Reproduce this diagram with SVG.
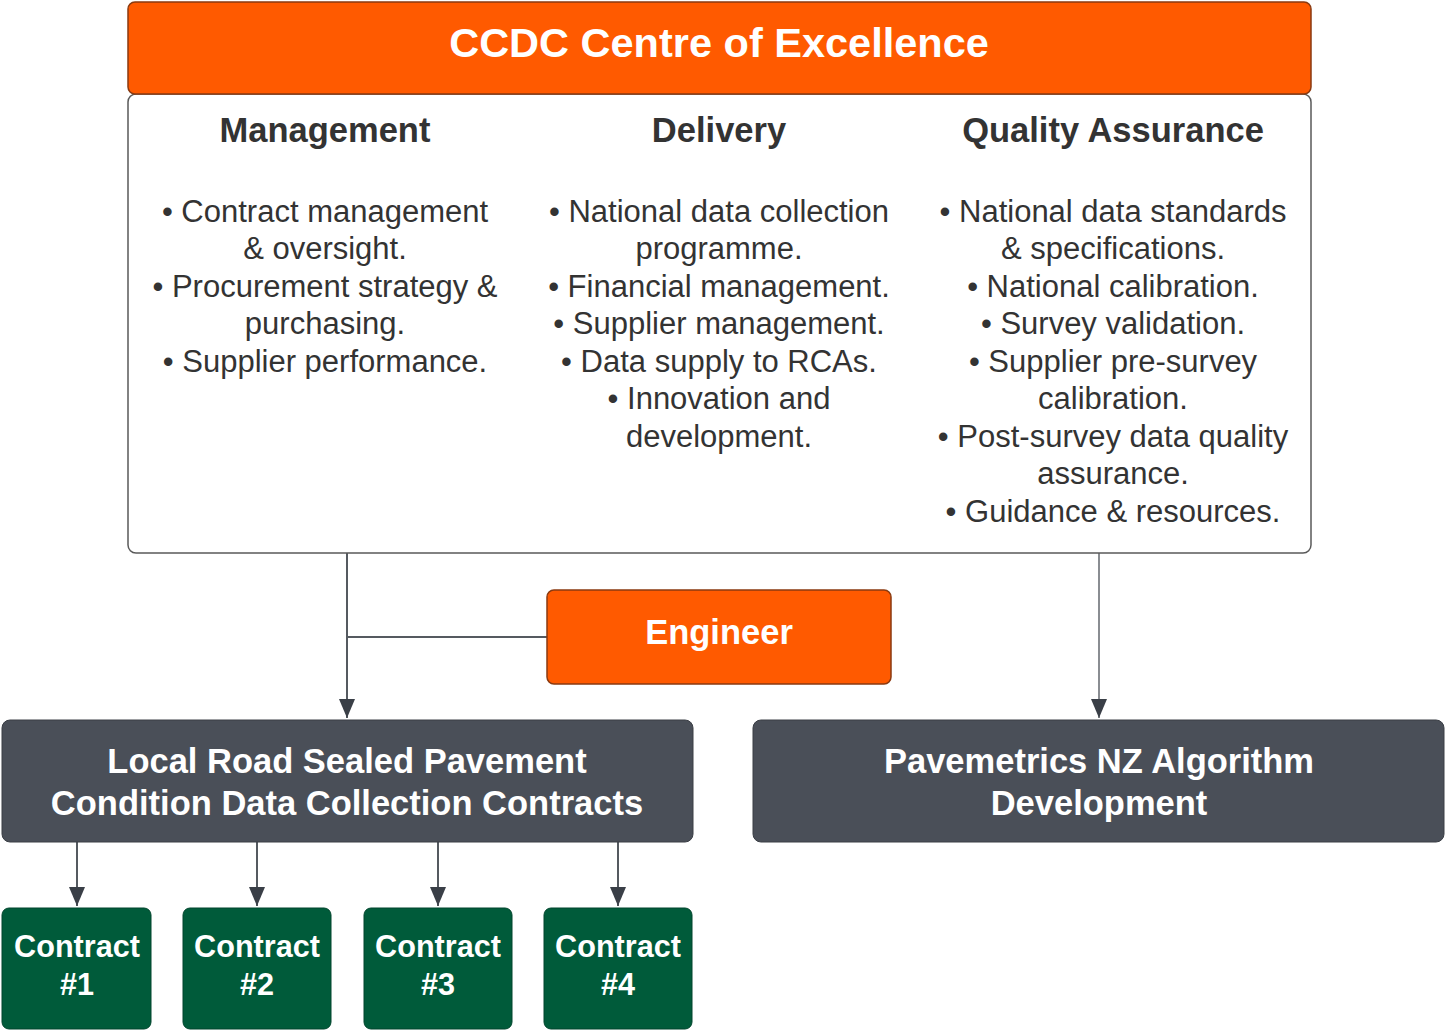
<svg xmlns="http://www.w3.org/2000/svg" width="1445" height="1031" viewBox="0 0 1445 1031">
<style>
.orange{fill:#FF5A00;stroke:#8a3a10;stroke-width:1.5}
.white{fill:#ffffff;stroke:#5a5a5a;stroke-width:1.5}
.dark{fill:#4A4F58;stroke:#3a3e45;stroke-width:1}
.green{fill:#005B3A;stroke:#00452c;stroke-width:1}
text{font-family:"Liberation Sans",Arial,sans-serif;text-anchor:middle}
.wt{fill:#ffffff;font-weight:bold}
.hd{fill:#333333;font-weight:bold;font-size:34.5px}
.bd{fill:#333333;font-size:31px}
.ln{stroke:#555a60;stroke-width:2;fill:none}
.ln2{stroke:#8a8d92;stroke-width:2;fill:none}
</style>
<defs>
<marker id="arr" viewBox="0 0 10 10" refX="10" refY="5" markerWidth="19" markerHeight="16" markerUnits="userSpaceOnUse" orient="auto" preserveAspectRatio="none">
<path d="M0,0 L10,5 L0,10 Z" fill="#3a3f47"/>
</marker>
</defs>
<g id="connectors">
<path class="ln" d="M347,553 V718" marker-end="url(#arr)"/>
<path class="ln" d="M347,637 H547"/>
<path class="ln2" d="M1099,553 V718" marker-end="url(#arr)"/>
<path class="ln" d="M77,842 V906" marker-end="url(#arr)"/>
<path class="ln" d="M257,842 V906" marker-end="url(#arr)"/>
<path class="ln" d="M438,842 V906" marker-end="url(#arr)"/>
<path class="ln" d="M618,842 V906" marker-end="url(#arr)"/>
</g>
<g id="ccdc-body">
<rect class="white" x="128" y="94" width="1183" height="459" rx="8"/>
<text class="hd" x="325" y="142">Management</text>
<text class="hd" x="719" y="142">Delivery</text>
<text class="hd" x="1113" y="142">Quality Assurance</text>
<text class="bd" x="325" y="222">• Contract management</text>
<text class="bd" x="325" y="259">&amp; oversight.</text>
<text class="bd" x="325" y="297">• Procurement strategy &amp;</text>
<text class="bd" x="325" y="334">purchasing.</text>
<text class="bd" x="325" y="372">• Supplier performance.</text>
<text class="bd" x="719" y="222">• National data collection</text>
<text class="bd" x="719" y="259">programme.</text>
<text class="bd" x="719" y="297">• Financial management.</text>
<text class="bd" x="719" y="334">• Supplier management.</text>
<text class="bd" x="719" y="372">• Data supply to RCAs.</text>
<text class="bd" x="719" y="409">• Innovation and</text>
<text class="bd" x="719" y="447">development.</text>
<text class="bd" x="1113" y="222">• National data standards</text>
<text class="bd" x="1113" y="259">&amp; specifications.</text>
<text class="bd" x="1113" y="297">• National calibration.</text>
<text class="bd" x="1113" y="334">• Survey validation.</text>
<text class="bd" x="1113" y="372">• Supplier pre-survey</text>
<text class="bd" x="1113" y="409">calibration.</text>
<text class="bd" x="1113" y="447">• Post-survey data quality</text>
<text class="bd" x="1113" y="484">assurance.</text>
<text class="bd" x="1113" y="522">• Guidance &amp; resources.</text>
</g>
<g id="ccdc-header">
<rect class="orange" x="128" y="2" width="1183" height="92" rx="7"/>
<text class="wt" x="719" y="57" font-size="41.5">CCDC Centre of Excellence</text>
</g>
<g id="engineer">
<rect class="orange" x="547" y="590" width="344" height="94" rx="7"/>
<text class="wt" x="719" y="644" font-size="34.5">Engineer</text>
</g>
<g id="local-road">
<rect class="dark" x="2" y="720" width="691" height="122" rx="8"/>
<text class="wt" x="347" y="773" font-size="34.5">Local Road Sealed Pavement</text>
<text class="wt" x="347" y="815" font-size="34.5">Condition Data Collection Contracts</text>
</g>
<g id="pavemetrics">
<rect class="dark" x="753" y="720" width="691" height="122" rx="8"/>
<text class="wt" x="1099" y="773" font-size="34.5">Pavemetrics NZ Algorithm</text>
<text class="wt" x="1099" y="815" font-size="34.5">Development</text>
</g>
<g id="contract1">
<rect class="green" x="2" y="908" width="149" height="121" rx="7"/>
<text class="wt" x="77" y="957" font-size="30.6">Contract</text>
<text class="wt" x="77" y="995" font-size="30.6">#1</text>
</g>
<g id="contract2">
<rect class="green" x="183" y="908" width="148" height="121" rx="7"/>
<text class="wt" x="257" y="957" font-size="30.6">Contract</text>
<text class="wt" x="257" y="995" font-size="30.6">#2</text>
</g>
<g id="contract3">
<rect class="green" x="364" y="908" width="148" height="121" rx="7"/>
<text class="wt" x="438" y="957" font-size="30.6">Contract</text>
<text class="wt" x="438" y="995" font-size="30.6">#3</text>
</g>
<g id="contract4">
<rect class="green" x="544" y="908" width="148" height="121" rx="7"/>
<text class="wt" x="618" y="957" font-size="30.6">Contract</text>
<text class="wt" x="618" y="995" font-size="30.6">#4</text>
</g>
</svg>
